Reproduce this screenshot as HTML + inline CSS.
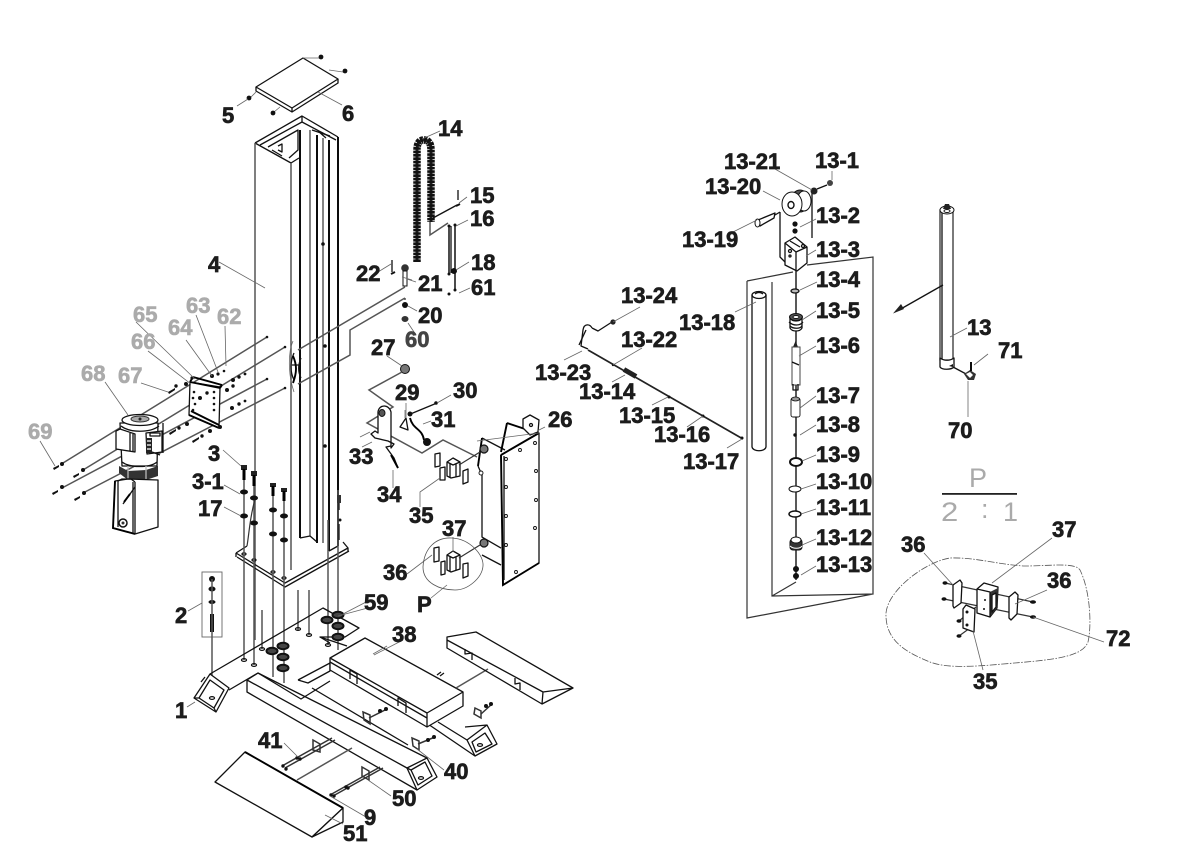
<!DOCTYPE html>
<html><head><meta charset="utf-8"><title>Exploded parts diagram</title>
<style>
html,body{margin:0;padding:0;background:#fff;}
svg{display:block;filter:blur(.3px);}
.t text{font-family:"Liberation Sans",sans-serif;font-weight:bold;font-size:22px;fill:#1c1c1c;stroke:#1c1c1c;stroke-width:.65px;}
.g text{font-family:"Liberation Sans",sans-serif;font-weight:bold;font-size:22px;fill:#ababab;stroke:#ababab;stroke-width:.6px;}
.thin text{font-family:"Liberation Sans",sans-serif;font-weight:normal;font-size:27px;fill:#aaa;}
.k{fill:none;stroke:#111;stroke-width:1.3;stroke-linejoin:round;}
.w{fill:#fff;stroke:#111;stroke-width:1.3;stroke-linejoin:round;}
.b{fill:none;stroke:#000;stroke-width:1.9;}
.m{fill:none;stroke:#555;stroke-width:1.5;}
.c{fill:none;stroke:#333;stroke-width:1.2;}
.l{fill:none;stroke:#666;stroke-width:.8;}
.d{fill:#111;stroke:none;}
</style></head><body>
<svg width="1180" height="856" viewBox="0 0 1180 856" xmlns="http://www.w3.org/2000/svg">
<rect width="1180" height="856" fill="#fff"/>

<!-- top cap -->
<path class="w" d="M303 58L338 79L292 108L256 87Z"/>
<path class="k" d="M256 87V91L292 112L338 83V79M292 108V112"/>
<path class="l" d="M303 58L319 58M329 70L343 72M256 92L251 97M280 107L274 112"/>
<g class="d"><circle cx="321" cy="57" r="2.4"/><circle cx="345" cy="71" r="2.4"/><circle cx="249" cy="98" r="2.4"/><circle cx="273" cy="113" r="2.4"/></g>

<!-- column -->
<path class="k" d="M255 143L302 116L338 137M255 143L291 163L299 158M302 116V122L260 145M302 122L336 140"/>
<path class="k" d="M268 147L298 130V150L289 158M272 150L282 156M312 130L330 136M318 131L326 138"/>
<path class="k" d="M278 146L282 144V152L278 150" stroke-width="2"/>
<path class="m" d="M255 143V640M291 163V570"/>
<path class="b" d="M300 130V538M317 135V543M329 140V551M338 137V546"/>
<path class="c" d="M310 130V536M323 138V543"/>
<path class="k" d="M300 538L310 536L317 542M329 551L338 546"/>
<circle class="d" cx="323" cy="244" r="1.8"/><circle class="d" cx="325" cy="346" r="1.8"/>
<circle class="d" cx="325" cy="446" r="1.8"/>
<path class="k" d="M294 353C290 362 290 372 294 380M301 358C298 365 298 372 301 378M292 365H300"/>
<path class="b" d="M293 356C297 365 297 372 293 383"/>
<path class="l" d="M293 341C288 352 288 375 294 392"/>

<!-- base plate -->
<path class="k" d="M236 553L247 546M236 553L285 583L348 548L343 542M237 557L285 587L349 551M236 553V557M348 548V551"/>
<g class="k"><ellipse cx="244" cy="554" rx="2" ry="1.2"/><ellipse cx="254" cy="560" rx="2" ry="1.2"/><ellipse cx="273" cy="572" rx="2" ry="1.2"/><ellipse cx="284" cy="578" rx="2" ry="1.2"/></g>

<!-- bolts 3 -->
<g class="m"><path d="M244 480V660M254 475V665M273 490V677M284 495V683M262 610V649M298 590V630M309 590V635M328 520V645M338 490V650"/></g>
<g fill="#222"><rect x="241" y="465" width="6" height="5"/><rect x="251" y="471" width="6" height="5"/><rect x="270" y="483" width="6" height="4"/><rect x="281" y="488" width="6" height="4"/></g>
<g class="b" style="stroke-width:3"><path d="M244 469V480M254 475V486M273 486V496M284 491V501"/></g>
<g class="d"><ellipse cx="244" cy="492" rx="4" ry="2.5"/><ellipse cx="254" cy="498" rx="4" ry="2.5"/><ellipse cx="273" cy="510" rx="4" ry="2.5"/><ellipse cx="284" cy="516" rx="4" ry="2.5"/><ellipse cx="244" cy="516" rx="4" ry="2.5"/><ellipse cx="254" cy="523" rx="4" ry="2.5"/><ellipse cx="273" cy="534" rx="4" ry="2.5"/><ellipse cx="284" cy="540" rx="4" ry="2.5"/></g>
<path class="c" d="M255 500C250 515 249 535 247 546"/>
<path class="k" d="M339 495V510M339 524V540"/><rect x="337" y="495" width="4" height="8" fill="#333"/><circle class="d" cx="340" cy="520" r="1.5"/>

<!-- item 2 -->
<rect x="202" y="572" width="20" height="65" fill="none" stroke="#666" stroke-width=".9"/>
<g class="d"><circle cx="212" cy="579" r="3"/><ellipse cx="212" cy="589" rx="3.5" ry="2.5"/><ellipse cx="212" cy="602" rx="3.5" ry="2"/><rect x="210" y="614" width="4" height="18"/></g>
<path class="m" d="M212 579V698"/>

<!-- base -->
<path class="k" d="M210 674L323 608L359 628L345 637L320 637L347 646"/>
<path class="k" d="M229 690L258 673L301 699L330 681M298 680L330 663V671L308 683L298 680M320 637L330 643"/>
<path class="w" d="M210 674L229 688L216 712L194 698Z"/>
<path class="k" d="M210 680L224 690L214 708L199 698ZM199 698L210 680M194 698L199 698M216 712L214 708M205 677L201 682"/>
<ellipse class="k" cx="212" cy="698" rx="2.5" ry="1.4"/>
<g class="k"><ellipse cx="244" cy="660" rx="2.5" ry="1.4"/><ellipse cx="254" cy="665" rx="2.5" ry="1.4"/><ellipse cx="262" cy="649" rx="2.5" ry="1.4"/><ellipse cx="298" cy="629" rx="2.5" ry="1.4"/><ellipse cx="309" cy="635" rx="2.5" ry="1.4"/><ellipse cx="328" cy="645" rx="2.5" ry="1.4"/></g>
<!-- washers -->
<g fill="#444" stroke="#111" stroke-width="2">
<ellipse cx="338" cy="615" rx="5.5" ry="3.2"/><ellipse cx="327" cy="620" rx="5.5" ry="3.2"/><ellipse cx="338" cy="626" rx="5.5" ry="3.2"/><ellipse cx="338" cy="637" rx="5.5" ry="3.2"/>
<ellipse cx="283" cy="646" rx="5.5" ry="3.2"/><ellipse cx="272" cy="651" rx="5.5" ry="3.2"/><ellipse cx="283" cy="657" rx="5.5" ry="3.2"/><ellipse cx="283" cy="668" rx="5.5" ry="3.2"/></g>

<!-- arm 40 -->
<path class="k" d="M258 673L247 680V692L417 790M247 680L407 768M258 673L427 758"/>
<path class="w" d="M407 768L427 758L437 777L417 790Z"/>
<path class="k" d="M411 770L425 762L432 776L418 785ZM407 768L411 770"/>
<ellipse class="k" cx="421" cy="778" rx="2.5" ry="1.4"/>
<!-- arm under 38 -->
<path class="k" d="M312 688L408 745M425 722L475 756L497 744L487 725L467 740L438 722M465 727L487 725"/>
<path class="k" d="M475 756L467 740M472 742L485 733L492 744L476 752Z"/>
<ellipse class="k" cx="480" cy="745" rx="2.5" ry="1.4"/>

<!-- box 38 -->
<path class="w" d="M330 658L365 638L463 692V706L427 727L330 670Z"/>
<path class="k" d="M330 658L427 713L463 692M330 662L427 718M427 713V727"/>
<path class="k" d="M350 679V670L357 674V684M398 706L398 698L406 703V713"/>
<path class="m" d="M456 688L488 669"/>
<path class="l" d="M373 654L387 646"/>
<path class="k" d="M437 675L441 672M440 676L444 673"/>

<!-- right ramp -->
<path class="k" d="M447 637L476 632L573 688L542 704L447 648ZM447 640L543 692L573 688M543 692L542 704"/>
<path class="k" d="M465 649V654L472 653V660M515 678V684L520 683V690"/>

<!-- ramp 51 -->
<path class="w" d="M215 782L245 752L343 808L312 837Z"/>
<path class="w" d="M343 808V822L312 837Z"/>
<path class="b" d="M245 752L343 808"/>
<path class="m" d="M297 780L352 748"/>

<!-- brackets and bolts -->
<g class="c" style="stroke-width:1.5">
<path d="M282 766L332 738M285 768L335 740M330 795L380 767M333 796L383 768"/>
<path d="M313 740L320 744V752L313 750ZM362 767L369 771V780L362 776Z"/>
<path d="M363 712L370 715V724L364 720ZM412 738L419 741V750L413 746ZM475 708L481 711V718L474 714Z"/>
<path d="M369 718L387 709M418 744L435 737M481 714L492 704"/>
</g>
<g class="d"><circle cx="283" cy="766" r="1.7"/><circle cx="286" cy="769" r="1.7"/><circle cx="297" cy="758" r="1.7"/><circle cx="300" cy="759" r="1.7"/><circle cx="331" cy="795" r="1.7"/><circle cx="334" cy="796" r="1.7"/><circle cx="346" cy="787" r="1.7"/><circle cx="348" cy="788" r="1.7"/><circle cx="380" cy="711" r="2"/><circle cx="386" cy="709" r="2"/><circle cx="428" cy="740" r="2"/><circle cx="434" cy="737" r="2"/><circle cx="486" cy="706" r="2"/><circle cx="491" cy="704" r="2"/></g>

<!-- long motor bolts -->
<path class="m" d="M267 337L63 463M285 347L83 470M267 379L62 488M285 388L83 493"/>
<g class="d"><circle cx="267" cy="337" r="1.3"/><circle cx="285" cy="347" r="1.3"/><circle cx="267" cy="379" r="1.3"/><circle cx="285" cy="388" r="1.3"/>
<circle cx="62" cy="464" r="2"/><circle cx="83" cy="470" r="2"/><circle cx="62" cy="487" r="2"/><circle cx="84" cy="493" r="2"/>
<path d="M53 468L59 465V467L54 470ZM73 476L79 473V475L74 478ZM52 493L58 490V492L53 495ZM74 499L80 496V498L75 501Z"/></g>

<!-- mount bracket -->
<path class="w" d="M190 382L220 387L219 428L189 415Z"/>
<path class="b" d="M193 377L222 385M190 382L220 388M193 377L190 382M222 385L220 388M189 415L219 428M191 411L219 425"/>
<circle class="d" cx="220" cy="427" r="2"/><circle class="d" cx="192" cy="378" r="1.6"/>
<g class="d">
<circle cx="193" cy="398" r="1.3"/><circle cx="195" cy="404" r="1.3"/><circle cx="194" cy="392" r="1.3"/><circle cx="193" cy="410" r="1.3"/>
<circle cx="214" cy="398" r="1.3"/><circle cx="214" cy="404" r="1.3"/><circle cx="214" cy="392" r="1.3"/><circle cx="214" cy="410" r="1.3"/>
<circle cx="212" cy="376" r="2"/><circle cx="218" cy="374" r="1.6"/><circle cx="224" cy="371" r="1.3"/>
<circle cx="186" cy="384" r="2"/><circle cx="176" cy="386" r="1.7"/><path d="M168 392L175 388V390L169 394Z"/>
<circle cx="200" cy="398" r="2"/><circle cx="207" cy="393" r="1.7"/>
<circle cx="233" cy="380" r="2"/><circle cx="239" cy="377" r="1.7"/><circle cx="245" cy="374" r="1.4"/>
<circle cx="227" cy="390" r="2"/><circle cx="233" cy="386" r="1.7"/>
<circle cx="232" cy="408" r="2"/><circle cx="239" cy="404" r="1.7"/><circle cx="245" cy="401" r="1.4"/>
<circle cx="187" cy="424" r="2"/><circle cx="179" cy="428" r="1.7"/><path d="M169 433L176 429V431L170 435Z"/>
<circle cx="210" cy="431" r="2"/><circle cx="202" cy="436" r="1.7"/><path d="M192 441L199 437V439L193 443Z"/>
</g>

<!-- motor -->
<path class="w" d="M120 423H158L157 466H122Z"/>
<ellipse class="w" cx="140" cy="420" rx="18" ry="5.500"/>
<ellipse cx="140" cy="419" rx="9" ry="3" fill="#aaa" stroke="#333"/>
<circle cx="140" cy="419" r="1.500" fill="#222"/>
<path class="k" d="M121 426C130 433 150 433 159 426"/>
<path class="w" d="M116 431L120 429L135 434V452L116 449Z"/>
<path class="k" d="M130 433V451M133 434V452" stroke-width="1.500"/>
<path class="w" d="M146 433L162 431V452L147 454Z"/>
<path class="k" d="M150 433H160V436H150Z"/>
<path d="M146 438H152V453H146Z" fill="#222"/><path class="k" d="M147 441H151M147 445H151M147 449H151" style="stroke:#fff"/>
<path class="k" d="M163 423V453M160 455L152 452"/>
<path class="k" d="M122 462C130 468 150 468 157 462"/>
<path d="M119 466L128 471L146 470L158 466V476L146 480L128 480L119 473Z" fill="#333"/>
<path class="k" d="M128 466V480M146 466V480" style="stroke:#bbb"/>
<path class="w" d="M115 481L128 479L158 480V527L135 534L113 528Z"/>
<path class="b" d="M115 481L113 528L135 534"/>
<path class="k" d="M118 481V527M133 482V533M135 482V534M118 481L122 479H131L135 482"/>
<path class="k" d="M123 504L135 487" stroke-width="1.200"/>
<path class="b" d="M124 502L130 494"/>
<circle cx="123" cy="523" r="4" fill="#fff" stroke="#111" stroke-width="1.5"/><circle cx="123" cy="523" r="1.5" fill="#333"/>

<!-- chain 14 -->
<path d="M417 262V150Q417 140 424 140Q431 140 431 150V222" fill="none" stroke="#222" stroke-width="3"/>
<path d="M417 262V150Q417 140 424 140Q431 140 431 150V222" fill="none" stroke="#111" stroke-width="7.500" stroke-dasharray="2.600 .8"/>
<path class="m" d="M430 222V235L448 223"/>
<path class="k" d="M433 218L457 205"/>
<path class="k" d="M458 190V200"/><path d="M456 206L460 204" stroke="#111" stroke-width="2"/>
<path class="b" d="M449 226V273M455 226V290" style="stroke-width:1.400"/>
<path class="k" d="M451 226V273"/>
<g class="d"><circle cx="449" cy="274" r="1.5"/><circle cx="449" cy="294" r="1.5"/><circle cx="455" cy="290" r="1.5"/><circle cx="454" cy="271" r="3"/><circle cx="449" cy="226" r="1.500"/><circle cx="455" cy="225" r="1.500"/></g>

<!-- 21 22 20 60 -->
<path class="k" d="M392 260V272"/><path d="M391 274L395 272" stroke="#111" stroke-width="2"/>
<circle cx="405" cy="268" r="3.8" fill="#333"/><rect x="403" y="271" width="4" height="15" fill="#fff" stroke="#111"/>
<circle class="d" cx="405" cy="305" r="3"/><ellipse cx="405" cy="319" rx="3.5" ry="3" fill="#333"/>
<path class="m" d="M405 287L298 350M405 298V300M405 298L350 330V355L298 384"/>

<!-- 27 and links -->
<circle cx="405" cy="369" r="4.5" fill="#777" stroke="#111"/>
<path class="m" d="M402 372L369 390L393 407L367 423L422 453L443 440L477 457"/>
<path class="k" d="M408 415L437 403"/><circle class="d" cx="436" cy="403" r="1.8"/>

<!-- bracket 33/29/31 -->
<path class="w" d="M378 412C379 404 389 404 391 412L391 448L394 444L388 441L375 438L371 434L375 431L378 433Z"/>
<ellipse cx="382" cy="413" rx="3" ry="3.5" fill="#555" stroke="#111"/>
<path class="k" d="M391 446L386 447L394 458L398 468"/>
<path class="b" d="M391 455L398 468"/>
<path class="w" d="M400 427L406 418L408 430Z"/><circle class="d" cx="410" cy="414" r="2.5"/>
<path class="b" d="M410 418C413 430 422 428 424 440"/><circle class="d" cx="427" cy="442" r="4"/>
<path class="l" d="M405 410V418M423 424L431 421M372 442L362 447M393 470V488M360 437L370 432"/>

<!-- plate 26 -->
<path class="k" d="M482 438L505 450M478 466L482 475V537L501 548M501 565L482 555"/>
<path class="b" d="M482 438L478 466"/>
<path class="w" d="M501 455L539 433V563L503 585Z"/>
<path class="b" d="M501 455L539 433M501 455L503 585L539 563M507 423L501 452M507 423L537 433"/>
<path class="k" d="M504 456V580"/>
<path class="w" d="M523 419L530 415L539 420L538 432L530 435L523 428Z"/><circle class="k" cx="531" cy="425" r="1.5"/>
<circle cx="484" cy="449" r="4" fill="#777" stroke="#111" stroke-width="1.2"/><circle cx="484" cy="543" r="4" fill="#777" stroke="#111" stroke-width="1.2"/>
<g fill="#fff" stroke="#111" stroke-width=".9"><circle cx="506" cy="459" r="1.5"/><circle cx="506" cy="487" r="1.5"/><circle cx="506" cy="516" r="1.5"/><circle cx="506" cy="545" r="1.5"/><circle cx="516" cy="572" r="1.5"/><circle cx="535" cy="443" r="1.5"/><circle cx="536" cy="471" r="1.5"/><circle cx="536" cy="500" r="1.5"/><circle cx="535" cy="528" r="1.5"/><circle cx="520" cy="450" r="1.5"/><circle cx="481" cy="473" r="2"/></g>

<!-- blocks 37 / 36 / 35 -->
<path class="w" d="M447 462L453 458L460 462V476L451 478L447 476Z"/><path class="k" d="M447 462L453 465L460 462M450 464V477M456 464V477"/>
<path class="w" d="M447 555L453 551L460 555V569L451 572L447 570Z"/><path class="k" d="M447 555L453 558L460 555M450 557V571M456 557V570"/>
<g class="w"><path d="M435 454L440 453V466L435 467Z"/><path d="M440 468L445 467V480L440 480Z"/><path d="M463 471L468 469V482L463 484Z"/><path d="M434 548L439 547V561L434 562Z"/><path d="M441 562L445 561V574L441 575Z"/><path d="M463 564L468 563V576L463 578Z"/></g>
<path class="c" d="M459 465L480 452M459 558L480 545"/>
<path class="l" d="M420 507V492L440 478M453 537V552M407 574L432 555M477 441L539 433"/>
<path fill="none" stroke="#555" stroke-width=".8" d="M423 567C424 548 436 537 452 538C470 539 484 555 483 566C482 578 468 590 455 590C440 590 423 583 423 567Z"/>
<path class="l" d="M431 598L447 585M375 606L338 616"/>

<!-- right housing -->
<path class="c" d="M747 281L793 272M807 265L873 257V594L772 596V282M747 281V618L873 594M772 596L796 582"/>
<path class="k" d="M752 295V447M766 295V447"/>
<ellipse class="k" cx="759" cy="295" rx="7" ry="3.5"/>
<path class="k" d="M752 447C753 452 765 452 766 447M755 294C757 292 761 292 763 294"/>
<path class="m" d="M796 264V580" style="stroke:#222"/>
<!-- right stack -->
<ellipse cx="795" cy="291" rx="4" ry="2" fill="#bbb" stroke="#111" stroke-width="1.3"/>
<ellipse cx="796" cy="317" rx="6.5" ry="3.5" fill="#555" stroke="#111"/>
<path class="w" d="M790 318L790 328C792 332 800 332 802 328V318C800 322 792 322 790 318Z"/>
<path class="k" d="M789 322C793 326 800 326 803 322M790 326C793 329 800 329 802 326"/>
<ellipse cx="796" cy="317" rx="3" ry="1.5" fill="#fff" stroke="#111"/>
<path d="M793 347L795.500 341L798 347Z" fill="#222"/>
<rect x="792" y="347" width="8" height="38" fill="#fff" stroke="#444"/>
<path class="k" d="M792 362L799 365M793 384V390H798V384"/>
<rect x="791" y="398" width="9" height="19" rx="2" fill="#fff" stroke="#111" stroke-width=".9"/>
<ellipse cx="795.500" cy="399" rx="4" ry="2" fill="#999" stroke="#111" stroke-width=".8"/>
<circle class="d" cx="795" cy="435" r="1.7"/>
<ellipse cx="796" cy="462" rx="6" ry="4" fill="#fff" stroke="#111" stroke-width="2"/>
<ellipse cx="795" cy="489" rx="6" ry="3" fill="#fff" stroke="#111" stroke-width="1"/>
<ellipse cx="795" cy="514" rx="6" ry="3" fill="#fff" stroke="#111" stroke-width="1.5"/>
<rect x="790" y="539" width="12" height="11" rx="3" fill="#333" stroke="#111"/>
<ellipse cx="796" cy="540" rx="5" ry="3" fill="#fff" stroke="#111"/>
<path d="M790 546C793 549 800 549 802 546" stroke="#fff" fill="none"/>
<circle class="d" cx="796" cy="569" r="3"/><circle class="d" cx="796" cy="576" r="3"/>

<!-- pulley -->
<path class="k" d="M780 212V257L785 262M812 193V238"/>
<ellipse cx="800" cy="201" rx="9" ry="11" fill="#555" stroke="#111"/>
<ellipse cx="804" cy="201" rx="7" ry="10" fill="#fff" stroke="#111"/>
<ellipse cx="792" cy="204" rx="10" ry="12" fill="#fff" stroke="#111"/>
<ellipse cx="791" cy="205" rx="3" ry="3.5" fill="#fff" stroke="#111" stroke-width="1.4"/>
<circle class="d" cx="795" cy="224" r="2.6"/><circle class="d" cx="795" cy="231" r="2.6"/>
<path class="w" d="M785 243L795 237L807 247V263L797 271L785 265Z"/>
<path class="k" d="M785 243L796 252V271M807 247L796 252M790 241L800 247"/>
<circle class="k" cx="790" cy="251" r="1.5"/><circle class="k" cx="803" cy="246" r="1.5"/><circle class="k" cx="790" cy="256" r="1"/>
<path class="w" d="M758 220L775 213L774 218L760 226Z"/><ellipse cx="757.500" cy="223" rx="2.500" ry="4" fill="#fff" stroke="#111"/>
<path class="k" d="M775 215L780 212"/>
<circle cx="814" cy="191" r="3.5" fill="#222"/><circle cx="830" cy="183" r="3" fill="#444"/>
<path class="k" d="M817 189L827 185"/>

<!-- hose -->
<path class="m" d="M588 350L743 439" style="stroke:#222;stroke-width:1.7"/>
<rect x="623" y="370.500" width="14" height="5" transform="rotate(30 630 373)" fill="#222"/>
<path class="k" d="M588 349L581 346L583 330C584 323 590 324 592 328" stroke-width="1.8"/>
<path class="k" d="M586 330L579 345M592 328L598 331L612 322"/>
<circle cx="613" cy="322" r="2.6" fill="#222"/>
<g class="d"><circle cx="613" cy="365" r="1.2"/><circle cx="669" cy="397" r="1.5"/><circle cx="703" cy="416" r="1.500"/><circle cx="742" cy="438" r="1.500"/></g>

<!-- cylinder 13 -->
<rect x="940" y="210" width="13" height="150" fill="#fff" stroke="#222" stroke-width="1.200"/>
<path class="k" d="M942 210V360"/>
<path class="w" d="M940 358V367C942 370 951 370 954 367V358C950 361 944 361 940 358Z"/>
<path class="d" d="M949 366L953 364V367Z"/>
<ellipse cx="947" cy="210" rx="7" ry="4" fill="#fff" stroke="#111"/>
<path d="M943 209L945 204H949L951 209Z" fill="#222"/><ellipse cx="947" cy="211" rx="3" ry="1.500" fill="#fff" stroke="#111"/>
<path class="k" d="M943 285L899 310"/><path d="M893 313.500L901 304L904 309Z" fill="#222"/>
<path class="k" d="M953 367L968 375" stroke-width="1.3"/>
<path d="M964 374L970 370L976 374L974 380L968 380Z" fill="#333"/><path d="M966 374L970 372L973 375L970 378Z" fill="#fff"/>
<path class="b" d="M971 362V371"/>
<path class="l" d="M968 381V417M974 365L988 354M950 337L967 328"/>

<!-- P 2:1 -->
<g class="thin"><text x="969" y="487" font-size="29">P</text><text transform="translate(941 521) scale(1.150 1)" font-size="30">2</text><text x="981" y="518" font-size="18">:</text><text x="1003" y="521" font-size="30">1</text></g>
<rect x="942" y="493" width="75" height="1.800" fill="#222"/>

<!-- detail P -->
<path fill="none" stroke="#555" stroke-width=".8" stroke-dasharray="7 1.500 1.500 1.500" d="M886 613C888 590 925 562 950 558C975 557 1000 565 1025 566C1050 566 1075 562 1080 570C1090 590 1092 625 1088 642C1082 658 1050 660 1003 664C970 667 945 668 930 662C905 652 885 640 886 613Z"/>
<path class="c" d="M945 583L1033 602M944 599L1033 617M959 621L976 607M959 636L970 628"/>
<path class="w" d="M977 589L984 583L998 587L997 608L990 617L977 613Z" stroke-width="1.5"/>
<path d="M990 592L998 588L997 608L990 617Z" fill="#333"/><path class="w" d="M992 595L996 593V607L992 612Z"/>
<path class="k" d="M977 589L990 592V617"/>
<circle class="d" cx="985" cy="600" r="1"/><circle class="d" cx="984" cy="609" r="1"/>
<path class="w" d="M953 585L960 580L962 583L961 603L954 608L953 606Z" stroke-width="1.4"/>
<path class="w" d="M1009 597L1015 592L1018 595L1017 614L1011 620L1009 618Z" stroke-width="1.4"/>
<path class="w" d="M963 609L966 605L975 609L974 632L963 628Z" stroke-width="1.8"/>
<circle class="d" cx="967" cy="612" r="1.500"/><circle class="d" cx="967" cy="625" r="1.500"/>
<g class="d"><ellipse cx="945" cy="583" rx="2.500" ry="1.800"/><ellipse cx="944" cy="599" rx="2.500" ry="1.800"/><ellipse cx="959" cy="621" rx="2.500" ry="1.800"/><ellipse cx="959" cy="636" rx="2.500" ry="1.800"/><ellipse cx="1033" cy="602" rx="3" ry="1.800"/><ellipse cx="1033" cy="617" rx="3" ry="1.800"/></g>

<!-- leaders -->
<path class="l" d="M237 106L248 99M318 92L342 105M219 262L265 288M440 131L422 139M412 280L402 277M378 272L391 264M416 282L407 279M417 311L408 306M416 335L408 323M387 356L402 366M406 403L406 417M451 395L437 403M545 427L537 431"/>
<path class="l" d="M467 197L459 203M468 220L456 226M469 262L456 270M470 288L459 293"/>
<path class="l" d="M223 450L241 466M224 485L240 494M224 507L241 516"/>
<path class="l" d="M368 601L343 614"/>
<path class="l" d="M188 611L202 603M187 707L195 702M284 743L298 757M444 770L417 749M391 796L368 780M366 817L330 796M343 824L325 815"/>
<path class="l" d="M403 640L374 655"/>
<path class="l" d="M775 169L812 190M832 171V180M763 191L780 200M757 220L733 232M816 219L800 227M816 250L806 256M817 282L800 290M816 311L802 320M816 346L799 356M816 396L800 408M816 425L800 435M816 455L802 461M816 484L801 489M816 509L801 514M816 539L802 545M816 566L801 575"/>
<path class="l" d="M735 312L756 302M640 307L613 322M642 348L613 365M564 360L582 351M625 375L612 382M668 397L652 405M703 416L687 427M742 439L727 448"/>
<path class="l" d="M136 322L195 379M196 315L218 372M186 340L212 376M225 326L226 366M148 351L191 384M105 382L128 415M141 383L168 392M40 441L55 466"/>
<path class="l" d="M924 553L953 585M1052 538L992 583M1047 590L1015 604M1104 642L1033 617M983 670L973 631"/>

<!-- labels -->
<g class="t">
<text x="222" y="123">5</text><text x="342" y="121">6</text><text x="438" y="136">14</text>
<text x="470" y="203">15</text><text x="470" y="226">16</text><text x="471" y="270">18</text><text x="471" y="295">61</text>
<text x="356" y="281">22</text><text x="418" y="291">21</text><text x="418" y="323">20</text>
<text x="405" y="347" style="fill:#444;stroke:#444">60</text>
<text x="371" y="355">27</text><text x="395" y="400">29</text><text x="453" y="398">30</text><text x="431" y="427">31</text>
<text x="349" y="464">33</text><text x="377" y="502">34</text><text x="409" y="523">35</text><text x="548" y="427">26</text>
<text x="442" y="536">37</text><text x="383" y="580">36</text><text x="417" y="612">P</text><text x="364" y="610">59</text>
<text x="392" y="642">38</text><text x="175" y="623">2</text><text x="175" y="718">1</text><text x="258" y="748">41</text>
<text x="444" y="779">40</text><text x="392" y="806">50</text><text x="364" y="825">9</text><text x="343" y="841">51</text>
<text x="208" y="272">4</text><text x="208" y="461">3</text><text x="192" y="489">3-1</text><text x="198" y="516">17</text>

<text x="724" y="169">13-21</text><text x="815" y="168">13-1</text><text x="705" y="194">13-20</text>
<text x="816" y="223">13-2</text><text x="682" y="247">13-19</text><text x="816" y="257">13-3</text>
<text x="816" y="287">13-4</text><text x="816" y="318">13-5</text><text x="816" y="353">13-6</text>
<text x="816" y="403">13-7</text><text x="816" y="432">13-8</text><text x="816" y="462">13-9</text>
<text x="816" y="489">13-10</text><text x="816" y="515">13-11</text><text x="816" y="545">13-12</text><text x="816" y="572">13-13</text>
<text x="621" y="303">13-24</text><text x="621" y="347">13-22</text><text x="679" y="330">13-18</text>
<text x="535" y="380">13-23</text><text x="579" y="399">13-14</text><text x="619" y="423">13-15</text>
<text x="654" y="442">13-16</text><text x="683" y="469">13-17</text>
<text x="967" y="335">13</text><text x="998" y="358">71</text><text x="948" y="438">70</text>
<text x="901" y="552">36</text><text x="1052" y="537">37</text><text x="1047" y="588">36</text><text x="1106" y="646">72</text><text x="973" y="689">35</text>
</g>
<g class="g">
<text x="133" y="322">65</text><text x="186" y="313">63</text><text x="217" y="324">62</text><text x="168" y="335">64</text>
<text x="131" y="349">66</text><text x="81" y="381">68</text><text x="118" y="383">67</text><text x="28" y="439">69</text>
</g>
</svg>
</body></html>
